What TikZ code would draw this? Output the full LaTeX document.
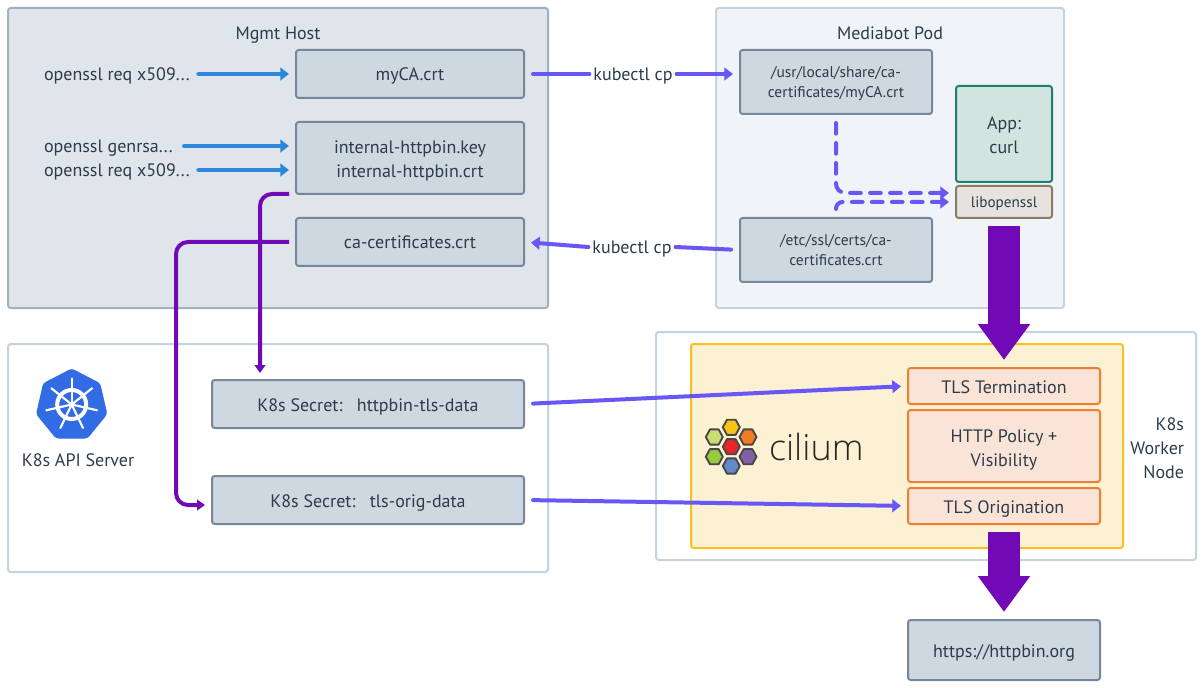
\documentclass[tikz,border=0pt]{standalone}
\usepackage{fontspec}
\setmainfont{PT Sans}
\newfontfamily\logofont{Open Sans Light}[Scale=1]
\usetikzlibrary{arrows.meta}
\definecolor{ink}{HTML}{2D3B4A}
\definecolor{filefill}{HTML}{CDD8E0}
\definecolor{fileline}{HTML}{76879A}
\definecolor{mgmtline}{HTML}{9FB0BF}
\definecolor{paleline}{HTML}{C5D3DE}
\definecolor{bluearrow}{HTML}{2B88DC}
\definecolor{violetarrow}{HTML}{6758F6}
\definecolor{purplearrow}{HTML}{7209B7}
\definecolor{tlsline}{HTML}{ED7F36}
\definecolor{tlsfill}{HTML}{F9E4D7}
\tikzset{every picture/.style={line width=0.75pt},
  every node/.style={text=ink,font=\fontsize{13.5}{18}\selectfont,align=center,outer sep=0pt,text height=13pt,text depth=2.5pt},
  twolines/.style={text height=32.5pt},
  smalllines/.style={font=\fontsize{11.6}{15.5}\selectfont,text height=26.5pt},
  panelbox/.style={draw,rounded corners=2pt,line width=1.5pt},
  filebox/.style={draw=fileline,fill=filefill,rounded corners=2pt,line width=1.5pt},
  tlsbox/.style={draw=tlsline,fill=tlsfill,rounded corners=2pt,line width=1.5pt},
  cmdtext/.style={anchor=west,inner sep=0pt},
  cptext/.style={inner sep=3pt},
  bluelink/.style={draw=bluearrow,line width=3pt,line cap=round,shorten >=5.25pt,shorten <=6.5pt,-{Triangle[width=9.5pt,length=6.5pt]}},
  violetlink/.style={draw=violetarrow,line width=3pt,line cap=round,shorten >=5.25pt,shorten <=6.75pt},
  violettip/.style={violetlink,-{Triangle[width=9.5pt,length=6.5pt]}},
  dashlink/.style={violettip,dash pattern=on 8pt off 7pt,rounded corners=7pt},
  purplelink/.style={draw=purplearrow,line width=3pt,rounded corners=9pt,shorten >=5.25pt,shorten <=5.25pt,-{Triangle[width=8pt,length=6pt]}},
  bigarrow/.style={draw=purplearrow,line width=24pt,shorten >=6pt,shorten <=6pt,-{Triangle[width=37.5pt,length=27pt]}},
  hexcell/.style={draw=black!72,line width=1.4pt,line join=round},
  wheelline/.style={draw=white,line width=1.6pt,line cap=round}}

\begin{document}
\begin{tikzpicture}[x=0.75pt,y=0.75pt,yscale=-1,xscale=1]
\useasboundingbox (0,0) rectangle (1204,688);

% Panels
\node (mgmt) [panelbox, draw=mgmtline, fill={rgb,255:red,224;green,229;blue,236}, minimum width=405pt, minimum height=225pt] at (278,158) {};
\node (pod) [panelbox, draw=paleline, fill={rgb,255:red,240;green,244;blue,248}, minimum width=261pt, minimum height=225pt] at (890,158) {};
\node (apiserver) [panelbox, draw=paleline, minimum width=405pt, minimum height=171pt] at (278,458) {};
\node (worker) [panelbox, draw=paleline, minimum width=405pt, minimum height=171pt] at (926,446) {};
\node (ciliumbox) [panelbox, draw={rgb,255:red,251;green,191;blue,36}, fill={rgb,255:red,253;green,241;blue,211}, minimum width=324pt, minimum height=153pt] at (907,446) {};

% Panel titles
\node (mgmttitle) at (278,33) {Mgmt Host};
\node (podtitle) at (890,33) {Mediabot Pod};
\node (apititle) at (78,459) {K8s API Server};
\node (workertitle) [anchor=east, align=right, inner sep=0pt, text height=49pt] at (1184,447) {K8s\\Worker\\Node};

% Mgmt Host files
\node (myca) [filebox, minimum width=171pt, minimum height=36pt] at (410,74) {myCA.crt};
\node (internal) [filebox, twolines, minimum width=171pt, minimum height=54pt] at (410,158) {internal-httpbin.key\\internal-httpbin.crt};
\node (cacert) [filebox, minimum width=171pt, minimum height=36pt] at (410,242) {ca-certificates.crt};

% openssl commands
\node (reqca) [cmdtext] at (44,74) {openssl req x509...};
\node (genrsa) [cmdtext] at (44,146) {openssl genrsa...};
\node (reqhttp) [cmdtext] at (44,170) {openssl req x509...};

% kubectl labels
\node (cpin) [cptext] at (633,74) {kubectl cp};
\node (cpout) [cptext] at (632,247) {kubectl cp};

% Pod files
\node (usrca) [filebox, smalllines, minimum width=144pt, minimum height=48pt] at (836,82) {/usr/local/share/ca-\\certificates/myCA.crt};
\node (etcca) [filebox, smalllines, minimum width=144pt, minimum height=48pt] at (836,250) {/etc/ssl/certs/ca-\\certificates.crt};
\node (app) [filebox, twolines, draw={rgb,255:red,31;green,127;blue,109}, fill={rgb,255:red,209;green,228;blue,224}, minimum width=72pt, minimum height=72pt] at (1004,134) {App:\\curl};
\node (libssl) [filebox, draw={rgb,255:red,139;green,123;blue,96}, fill={rgb,255:red,230;green,227;blue,223}, minimum width=72pt, minimum height=24pt, font=\fontsize{11.4}{14}\selectfont, text height=11.5pt] at (1004,202) {libopenssl};

% Secrets
\node (secrethttp) [filebox, minimum width=234pt, minimum height=36pt] at (368,404) {K8s Secret:\ \ \ httpbin-tls-data};
\node (secretorig) [filebox, minimum width=234pt, minimum height=36pt] at (368,500) {K8s Secret:\ \ \ tls-orig-data};

% Cilium blocks
\node (tlsterm) [tlsbox, minimum width=144pt, minimum height=27pt] at (1004,386) {TLS Termination};
\node (policy) [tlsbox, twolines, minimum width=144pt, minimum height=54pt] at (1004,446) {HTTP Policy +\\Visibility};
\node (tlsorig) [tlsbox, minimum width=144pt, minimum height=27pt] at (1004,506) {TLS Origination};
\node (httpbin) [filebox, minimum width=144pt, minimum height=45pt] at (1004,650) {https://httpbin.org};

% Kubernetes logo
\draw [fill={rgb,255:red,50;green,108;blue,229}, draw={rgb,255:red,50;green,108;blue,229}, rounded corners=2pt] (71.7,369) -- (99.8,383.6) -- (106.8,414) -- (87.3,438) -- (56.1,438) -- (36.6,414) -- (43.6,383.6) -- cycle;
\coordinate (hub) at (71.7,404.5);
\draw [draw=white, line width=3pt] (hub) circle (14.5);
\fill [white] (hub) circle (3);
\draw [wheelline] (hub) -- ++(270:26);
\draw [wheelline] (hub) -- ++(321.4:26);
\draw [wheelline] (hub) -- ++(12.9:26);
\draw [wheelline] (hub) -- ++(64.3:26);
\draw [wheelline] (hub) -- ++(115.7:26);
\draw [wheelline] (hub) -- ++(167.1:26);
\draw [wheelline] (hub) -- ++(218.6:26);

% Cilium logo
\draw [hexcell, fill={rgb,255:red,248;green,197;blue,23}] (731.3,427.3) ++(-8.5,0) -- ++(4.2,-7.6) -- ++(8.6,0) -- ++(4.2,7.6) -- ++(-4.2,7.6) -- ++(-8.6,0) -- cycle;
\draw [hexcell, fill={rgb,255:red,240;green,125;blue,34}] (748,437) ++(-8.5,0) -- ++(4.2,-7.6) -- ++(8.6,0) -- ++(4.2,7.6) -- ++(-4.2,7.6) -- ++(-8.6,0) -- cycle;
\draw [hexcell, fill={rgb,255:red,202;green,221;blue,114}] (714.3,437) ++(-8.5,0) -- ++(4.2,-7.6) -- ++(8.6,0) -- ++(4.2,7.6) -- ++(-4.2,7.6) -- ++(-8.6,0) -- cycle;
\draw [hexcell, fill={rgb,255:red,232;green,38;blue,41}] (731.3,446.7) ++(-8.5,0) -- ++(4.2,-7.6) -- ++(8.6,0) -- ++(4.2,7.6) -- ++(-4.2,7.6) -- ++(-8.6,0) -- cycle;
\draw [hexcell, fill={rgb,255:red,152;green,202;blue,63}] (714.3,456.7) ++(-8.5,0) -- ++(4.2,-7.6) -- ++(8.6,0) -- ++(4.2,7.6) -- ++(-4.2,7.6) -- ++(-8.6,0) -- cycle;
\draw [hexcell, fill={rgb,255:red,128;green,97;blue,169}] (748,456.7) ++(-8.5,0) -- ++(4.2,-7.6) -- ++(8.6,0) -- ++(4.2,7.6) -- ++(-4.2,7.6) -- ++(-8.6,0) -- cycle;
\draw [hexcell, fill={rgb,255:red,98;green,138;blue,198}] (731.3,466) ++(-8.5,0) -- ++(4.2,-7.6) -- ++(8.6,0) -- ++(4.2,7.6) -- ++(-4.2,7.6) -- ++(-8.6,0) -- cycle;
\node (ciliumword) [anchor=west, inner sep=0pt, text=black!85, font=\fontsize{27}{30}\selectfont\logofont, text height=20pt, text depth=0pt] at (769,447) {cilium};

% Blue arrows
\draw [bluelink] (reqca.east) -- (reqca.east -| myca.west);
\draw [bluelink, shorten <=8.5pt] (genrsa.east) -- (genrsa.east -| internal.west);
\draw [bluelink] (reqhttp.east) -- (reqhttp.east -| internal.west);

% kubectl arrows
\draw [violetlink, shorten >=0pt] (myca.east) -- (cpin.west |- myca.east);
\draw [violettip, shorten <=0pt] (cpin.east |- myca.east) -- (cpin.east |- myca.east -| usrca.west);
\draw [violetlink, shorten >=0pt] (etcca.west) -- (cpout.east);
\draw [violettip, shorten <=0pt] (cpout.west) -- (cacert.east);

% Dashed arrows to libopenssl
\coordinate (bendusr) at (836,193);
\coordinate (bendetc) at (836,202);
\draw [dashlink] (usrca.south) -- (bendusr) -- (bendusr -| libssl.west);
\draw [dashlink, rounded corners=5pt] (etcca.north) -- (bendetc) -- (bendetc -| libssl.west);

% Secret arrows
\draw [violettip] (secrethttp.east) -- (tlsterm.west);
\draw [violettip] (secretorig.east) -- (tlsorig.west);

% Purple elbows
\coordinate (benda) at (260,194);
\coordinate (bendb) at (176,242);
\coordinate (bendc) at (176,505);
\draw [purplelink] (internal.south west) -- (benda) -- (benda |- secrethttp.north);
\draw [purplelink] (cacert.west) -- (bendb) -- (bendc) -- (bendc -| secretorig.west);

% Thick arrows
\draw [bigarrow] (libssl.south) -- (tlsterm.north);
\draw [bigarrow] (tlsorig.south) -- (httpbin.north);
\end{tikzpicture}
\end{document}
